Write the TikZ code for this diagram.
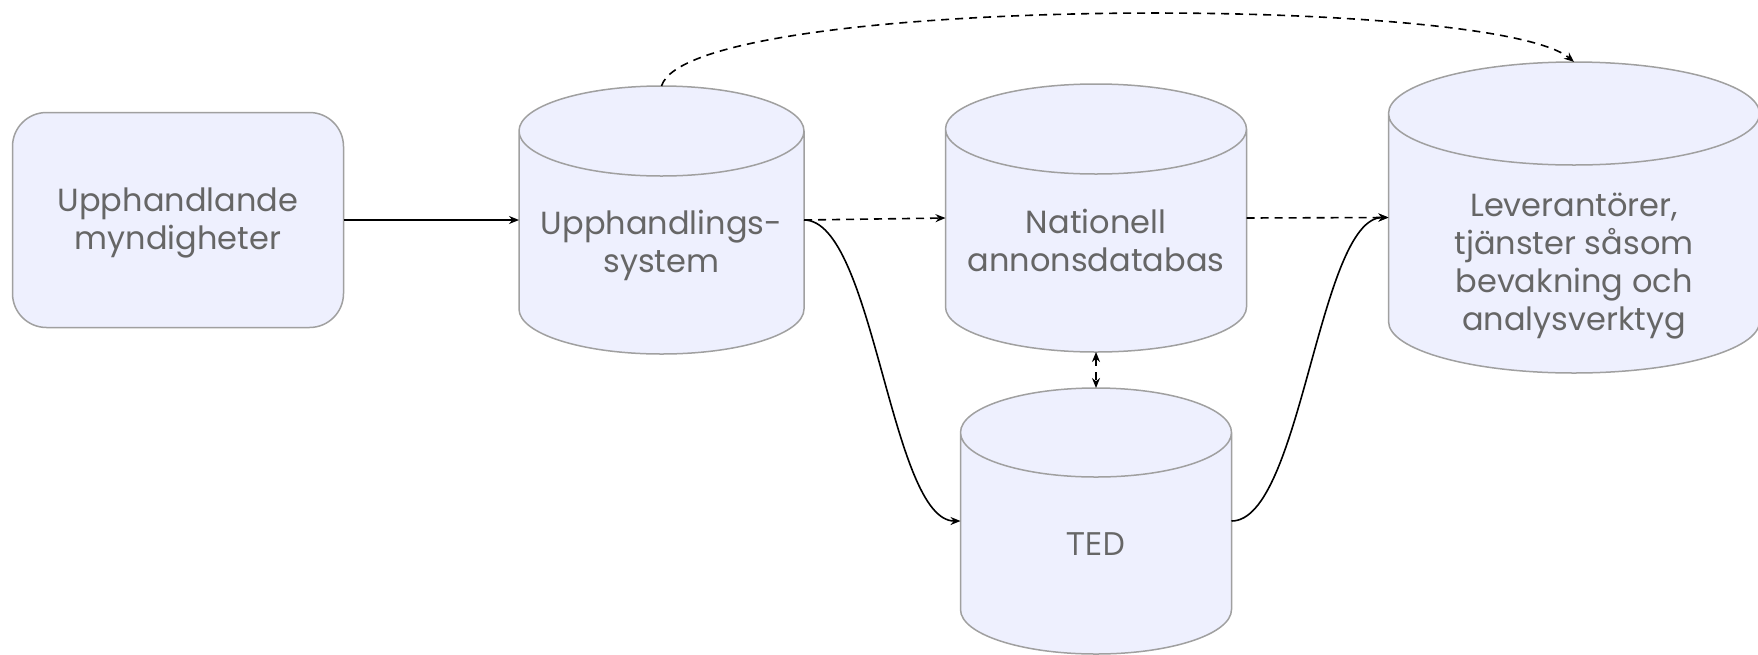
\documentclass[tikz,border=0pt]{standalone}
\usepackage{fontspec}
\setmainfont{Poppins}
\newfontfamily\tedfont{Open Sans}
\usetikzlibrary{arrows.meta, calc, backgrounds}

\definecolor{boxfill}{RGB}{238,240,254}
\definecolor{boxline}{RGB}{160,160,160}
\definecolor{boxtext}{RGB}{102,102,102}

\begin{document}
\begin{tikzpicture}[
  x=1pt, y=1pt,
  font=\fontsize{32}{38}\selectfont,
  actor/.style={
    draw=boxline, fill=boxfill, line width=1.5pt, rounded corners=34pt,
    minimum width=331pt, minimum height=215pt, inner sep=0pt, outer sep=0pt
  },
  db/.style={rectangle, inner sep=0pt, outer sep=0pt},
  dbline/.style={draw=boxline, fill=boxfill, line width=1.5pt},
  dblbl/.style={text=boxtext, align=center},
  flow/.style={line width=1.6pt, -{Stealth[length=10pt, width=8pt]}},
  feed/.style={flow, dash pattern=on 8pt off 6pt},
]
  \useasboundingbox (0,0) rectangle (1758,-654);

  % --- Actors and databases ---
  \node[actor, label={[dblbl, yshift=-3pt]center:{Upphandlande\\myndigheter}}] (buyer) at (178,-220) {};
  \node[db, minimum width=285pt, minimum height=268pt,
    label={[dblbl, yshift=-25pt]center:{Upphandlings-\\system}}] (tender) at (661.5,-220) {};
  \node[db, minimum width=301pt, minimum height=268pt,
    label={[dblbl, yshift=-22pt]center:{Nationell\\annonsdatabas}}] (notices) at (1096,-218) {};
  \node[db, minimum width=271pt, minimum height=266pt,
    label={[dblbl, yshift=-23pt]center:{\tedfont TED}}] (ted) at (1096,-521) {};
  \node[db, minimum width=371pt, minimum height=311pt,
    label={[dblbl, yshift=-49pt]center:{Leverantörer,\\tjänster såsom\\bevakning och\\analysverktyg}}] (suppliers) at (1574,-217.5) {};

  % cylinder outlines behind the labels
  \begin{scope}[on background layer]
    \foreach \db/\ry in {tender/45, notices/45, ted/44.5, suppliers/51.5} {
      \filldraw[dbline] let \p1=(\db.north west), \p2=(\db.south east), \n1={(\x2-\x1)/2} in
        (\x1,\y1-\ry pt) -- (\x1,\y2+\ry pt)
        arc[start angle=180, end angle=360, x radius=\n1, y radius=\ry pt]
        -- (\x2,\y1-\ry pt)
        arc[start angle=0, end angle=180, x radius=\n1, y radius=\ry pt] -- cycle
        (\x1,\y1-\ry pt) arc[start angle=180, end angle=360, x radius=\n1, y radius=\ry pt];
    }
  \end{scope}

  % --- Flows ---
  \draw[flow] (buyer.east) -- (tender.west);
  \draw[feed] (tender.east) -- (notices.west);
  \draw[flow] (tender.east) .. controls +(70,0) and +(-70,0) .. (ted.west);
  \draw[flow] (ted.east) .. controls +(70,0) and +(-70,0) .. (suppliers.west);
  \draw[feed] (notices.east) -- (suppliers.west);
  \draw[feed, {Stealth[length=10pt, width=8pt]}-{Stealth[length=10pt, width=8pt]}]
    (notices.south) -- (ted.north);
  % long link over the top
  \draw[feed] (tender.north) .. controls +(28,92) and +(-80,68) .. (suppliers.north);

\end{tikzpicture}
\end{document}
